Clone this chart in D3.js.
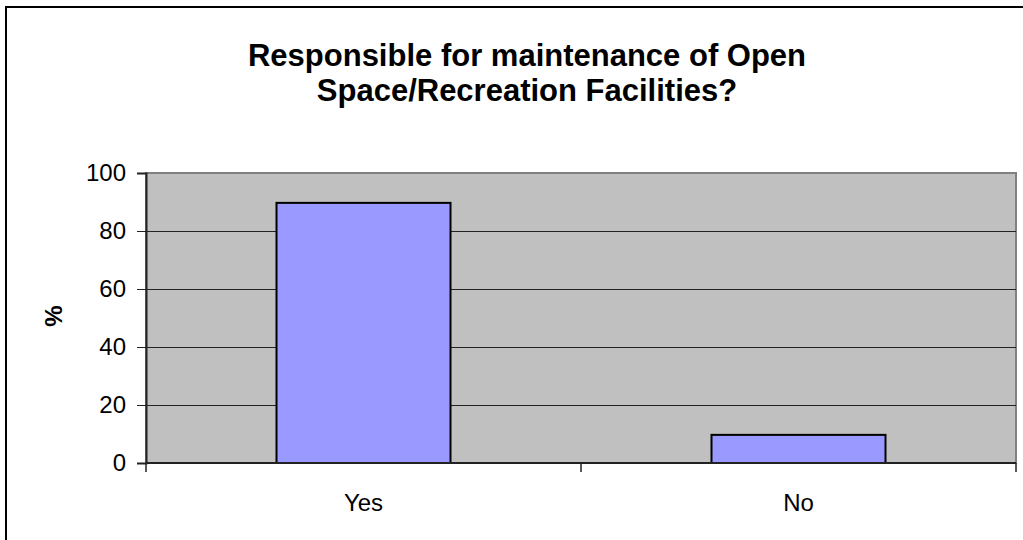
<!DOCTYPE html>
<html>
<head>
<meta charset="utf-8">
<script src="https://cdn.jsdelivr.net/npm/d3@7"></script>
<style>
  body { margin: 0; background: #fff; }
  text { font-family: Arial, "Liberation Sans", sans-serif; }
</style>
</head>
<body>
<div id="chart-section"></div>
<script>
// data
var categories = ["Yes", "No"];
var percents = [89.7, 9.7];
var yTicks = [0, 20, 40, 60, 80, 100];
var titleLines = ["Responsible for maintenance of Open", "Space/Recreation Facilities?"];

var W = 1023, H = 540;
var plot = {left: 146, right: 1016, top: 173, bottom: 463};

var svg = d3.select("#chart-section")
        .append("svg")
        .attr("width", W)
        .attr("height", H);

// outer chart frame (cut off at right and bottom)
svg.append("rect")
        .attr("x", 6).attr("y", 7)
        .attr("width", W + 20).attr("height", H + 20)
        .attr("fill", "#fff")
        .attr("stroke", "#000")
        .attr("stroke-width", 2);

var x = d3.scaleBand()
        .domain(categories)
        .range([plot.left, plot.right])
        .paddingInner(0.6)
        .paddingOuter(0.3);

var y = d3.scaleLinear()
        .domain([0, 100])
        .range([plot.bottom, plot.top]);

// plot area
svg.append("rect")
        .attr("x", plot.left).attr("y", plot.top)
        .attr("width", plot.right - plot.left)
        .attr("height", plot.bottom - plot.top)
        .attr("fill", "#C0C0C0")
        .attr("stroke", "#808080")
        .attr("stroke-width", 2);

// gridlines
svg.append("g")
        .selectAll("line")
        .data(yTicks.filter(d => d > 0 && d < 100))
        .enter()
        .append("line")
        .attr("x1", plot.left).attr("x2", plot.right)
        .attr("y1", d => Math.round(y(d)) + 0.5)
        .attr("y2", d => Math.round(y(d)) + 0.5)
        .attr("stroke", "#222")
        .attr("stroke-width", 1);

// bars
svg.append("g")
        .selectAll("rect")
        .data(percents)
        .enter()
        .append("rect")
        .attr("x", (d, i) => x(categories[i]))
        .attr("width", x.bandwidth())
        .attr("y", d => y(d))
        .attr("height", d => y(0) - y(d))
        .attr("fill", "#9999FF")
        .attr("stroke", "#000")
        .attr("stroke-width", 2);

// y axis
var yAxis = svg.append("g")
        .attr("transform", "translate(" + plot.left + ",0)")
        .call(d3.axisLeft(y).tickValues(yTicks).tickSize(9).tickPadding(11));
yAxis.select(".domain").attr("stroke", "#222").attr("stroke-width", 2);
yAxis.selectAll(".tick line").attr("stroke", "#222");
yAxis.selectAll("text")
        .attr("font-size", 24)
        .attr("font-family", "Arial, 'Liberation Sans', sans-serif")
        .attr("fill", "#000");

// x axis
var xAxis = svg.append("g")
        .attr("transform", "translate(0," + plot.bottom + ")")
        .call(d3.axisBottom(x).tickSize(0).tickPadding(31));
xAxis.select(".domain").remove();
xAxis.selectAll("text")
        .attr("font-size", 24)
        .attr("font-family", "Arial, 'Liberation Sans', sans-serif")
        .attr("fill", "#000");

svg.append("line")
        .attr("x1", plot.left).attr("x2", plot.right)
        .attr("y1", plot.bottom).attr("y2", plot.bottom)
        .attr("stroke", "#222")
        .attr("stroke-width", 2);

// category boundary ticks
var bounds = d3.range(categories.length + 1).map(i => plot.left + i * x.step());
svg.append("g")
        .selectAll("line")
        .data(bounds)
        .enter()
        .append("line")
        .attr("x1", d => d).attr("x2", d => d)
        .attr("y1", plot.bottom).attr("y2", plot.bottom + 9)
        .attr("stroke", "#222")
        .attr("stroke-width", 1.5);

// title
svg.append("text")
        .attr("text-anchor", "middle")
        .attr("font-size", 31)
        .attr("font-weight", "bold")
        .selectAll("tspan")
        .data(titleLines)
        .enter()
        .append("tspan")
        .attr("x", 527)
        .attr("y", (d, i) => 66 + i * 35)
        .text(d => d);

// y label
svg.append("text")
        .text("%")
        .attr("font-size", 24)
        .attr("font-weight", "bold")
        .attr("text-anchor", "middle")
        .attr("transform", "translate(62,316) rotate(-90)");
</script>
</body>
</html>
